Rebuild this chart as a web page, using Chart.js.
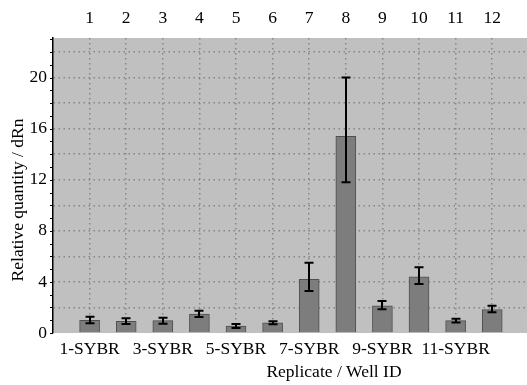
<!DOCTYPE html>
<html>
<head>
<meta charset="utf-8">
<script src="https://cdn.jsdelivr.net/npm/chart.js@4"></script>
<style>
  html, body { margin: 0; padding: 0; background: #fff; }
  #wrap { width: 527px; height: 385px; }
</style>
</head>
<body>
<div id="wrap"><canvas id="chart"></canvas></div>
<script>
// well positions and values
const wells = [1, 2, 3, 4, 5, 6, 7, 8, 9, 10, 11, 12];
const wellLabels = ['1-SYBR', '2-SYBR', '3-SYBR', '4-SYBR', '5-SYBR', '6-SYBR',
                    '7-SYBR', '8-SYBR', '9-SYBR', '10-SYBR', '11-SYBR', '12-SYBR'];
const quantity = [1.0, 0.92, 0.97, 1.49, 0.55, 0.8, 4.2, 15.4, 2.12, 4.39, 0.97, 1.83];
const errUp    = [0.27, 0.23, 0.23, 0.26, 0.15, 0.12, 1.3, 4.6, 0.38, 0.76, 0.15, 0.31];
const errDown  = [0.24, 0.22, 0.24, 0.24, 0.15, 0.12, 0.92, 3.6, 0.26, 0.55, 0.14, 0.21];
const yTickLabels = [0, 4, 8, 12, 16, 20];

const serif = '"Liberation Serif", "Times New Roman", serif';
const dotted = '#858585';

const plotBg = {
  id: 'plotBg',
  beforeDraw(chart) {
    const a = chart.chartArea, ctx = chart.ctx;
    ctx.save();
    ctx.fillStyle = '#c0c0c0';
    ctx.fillRect(a.left, a.top, a.right - a.left, a.bottom - a.top);
    ctx.restore();
  }
};

const extras = {
  id: 'extras',
  afterDatasetsDraw(chart) {
    const ctx = chart.ctx, x = chart.scales.x, y = chart.scales.y;
    ctx.save();
    // error bars
    ctx.strokeStyle = '#000';
    ctx.lineWidth = 2;
    quantity.forEach((v, i) => {
      const px = Math.round(x.getPixelForValue(wells[i]));
      const yt = y.getPixelForValue(v + errUp[i]);
      const yb = y.getPixelForValue(v - errDown[i]);
      ctx.beginPath();
      ctx.moveTo(px, yt); ctx.lineTo(px, yb);
      ctx.moveTo(px - 4.5, yt); ctx.lineTo(px + 4.5, yt);
      ctx.moveTo(px - 4.5, yb); ctx.lineTo(px + 4.5, yb);
      ctx.stroke();
    });
    // minor ticks on the value axis
    ctx.lineWidth = 1;
    for (let v = 0; v <= 23; v++) {
      const py = Math.round(y.getPixelForValue(v)) + 0.5;
      ctx.beginPath();
      ctx.moveTo(y.right - 3, py); ctx.lineTo(y.right, py);
      ctx.stroke();
    }
    // axis titles
    ctx.fillStyle = '#000';
    ctx.font = '17.5px ' + serif;
    ctx.textAlign = 'center';
    ctx.textBaseline = 'middle';
    ctx.fillText('Replicate / Well ID', 334, 372);
    ctx.translate(18, 200);
    ctx.rotate(-Math.PI / 2);
    ctx.fillText('Relative quantity / dRn', 0, 0);
    ctx.restore();
  }
};

new Chart(document.getElementById('chart').getContext('2d'), {
  type: 'bar',
  data: {
    datasets: [{
      data: wells.map((w, i) => ({ x: w, y: quantity[i] })),
      backgroundColor: '#7d7d7d',
      borderColor: '#4f4f4f',
      borderWidth: 1,
      borderSkipped: 'bottom',
      barThickness: 20,
      xAxisID: 'x',
      yAxisID: 'y'
    }]
  },
  options: {
    responsive: true,
    maintainAspectRatio: false,
    animation: false,
    layout: { padding: 0 },
    plugins: { legend: { display: false }, tooltip: { enabled: false } },
    scales: {
      x: {
        type: 'linear',
        position: 'bottom',
        min: 0,
        max: 12.95,
        offset: false,
        afterBuildTicks: s => { s.ticks = [1, 3, 5, 7, 9, 11].map(v => ({ value: v })); },
        afterFit: s => { s.height = 52; },
        grid: { display: false, drawTicks: false, offset: false, tickLength: 0 },
        border: { display: false },
        ticks: {
          color: '#000',
          font: { family: serif, size: 17.5 },
          padding: 6,
          maxRotation: 0,
          autoSkip: false,
          callback: v => wellLabels[v - 1]
        }
      },
      x2: {
        type: 'linear',
        position: 'top',
        min: 0,
        max: 12.95,
        offset: false,
        afterBuildTicks: s => { s.ticks = wells.map(v => ({ value: v })); },
        afterFit: s => { s.height = 38; },
        grid: { color: dotted, lineWidth: 1.5, drawTicks: false, tickLength: 0, offset: false },
        border: { display: false, dash: [1.5, 3.5] },
        ticks: {
          color: '#000',
          font: { family: serif, size: 17.5 },
          padding: 9,
          maxRotation: 0,
          autoSkip: false,
          callback: v => String(v)
        }
      },
      y: {
        min: 0,
        max: 23.1,
        afterBuildTicks: s => {
          const t = [{ value: 0 }];
          for (let v = 2; v <= 22; v += 2) t.push({ value: v });
          s.ticks = t;
        },
        afterFit: s => { s.width = 53; },
        grid: {
          drawTicks: false,
          tickLength: 0,
          lineWidth: 1.5,
          color: c => c.tick && c.tick.value === 0 ? 'rgba(0,0,0,0)' : dotted
        },
        border: { display: true, color: '#000', width: 1.5, dash: [1.5, 3.5] },
        ticks: {
          color: '#000',
          font: { family: serif, size: 17.5 },
          padding: 6,
          autoSkip: false,
          callback: v => yTickLabels.includes(v) ? String(v) : ''
        }
      }
    }
  },
  plugins: [plotBg, extras]
});
</script>
</body>
</html>
